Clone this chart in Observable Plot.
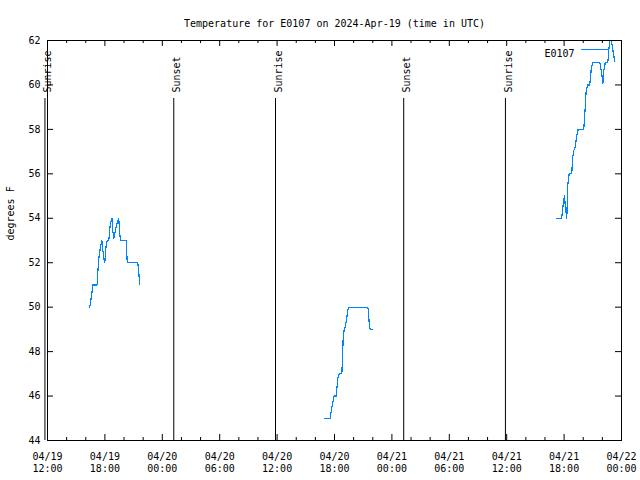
<!DOCTYPE html>
<html><head><meta charset="utf-8">
<script src="https://cdn.jsdelivr.net/npm/d3@7"></script>
<script src="https://cdn.jsdelivr.net/npm/@observablehq/plot@0.6"></script>
<style>body{margin:0;background:#fff}</style>
</head><body><div id="chart"></div><script>
const titleText = "Temperature for E0107 on 2024-Apr-19 (time in UTC)";
const yLabel = "degrees F";
const seriesName = "E0107";
const lineColor = "#0084ff";

const xDomain = ["2024-04-19T12:00Z", "2024-04-22T00:00Z"];
const yDomain = [44, 62];
const yTicks = [44, 46, 48, 50, 52, 54, 56, 58, 60, 62];
const xLabelTimes = ["2024-04-19T12:00Z","2024-04-19T18:00Z","2024-04-20T00:00Z","2024-04-20T06:00Z",
  "2024-04-20T12:00Z","2024-04-20T18:00Z","2024-04-21T00:00Z","2024-04-21T06:00Z",
  "2024-04-21T12:00Z","2024-04-21T18:00Z","2024-04-22T00:00Z"];

const sunTimes = ["2024-04-19T11:44Z","2024-04-20T01:12Z","2024-04-20T11:50Z","2024-04-21T01:14Z","2024-04-21T11:52Z"];
const sunLabels = ["Sunrise","Sunset","Sunrise","Sunset","Sunrise"];

const s1Times = ["16:25","16:36","16:44","17:12","17:15","17:22","17:32","17:41","17:45","17:53","17:59","18:08","18:14","18:24","18:35","18:46","18:50","18:56","19:02","19:13","19:21","19:27","19:33","19:38","20:14","20:20","21:26","21:33","21:39"];
const s1Temps = [50.0,50.5,51,51,51.5,52.2,52.7,53,52.7,52.2,52,52.8,53,53,53.8,54,53.4,53.1,53.3,53.7,53.9,54,53.3,53,53,52,52,51.5,51];

const s2Times = ["16:57","17:33","17:37","17:43","17:49","17:58","18:12","18:14","18:21","18:29","18:46","18:49","18:54","19:01","19:07","19:15","19:23","19:32","21:29","21:33","21:38","21:44","21:58"];
const s2Temps = [45,45,45.2,45.5,45.7,46,46,46.3,46.8,47,47,47.5,48.5,49,49.1,49.4,49.85,50,50,49.8,49.25,49,49];

const s3Times = ["17:12","17:45","17:54","18:02","18:11","18:17","18:23","18:32","18:48","18:54","19:01","19:09","19:18","19:28","20:03","20:10","20:18","20:27","20:41","20:50","20:58","21:44","21:53","21:59","22:03","22:09","22:18","22:34","22:40","22:47","22:57","23:03","23:12","23:18"];
const s3Temps = [54,54,54.6,55,54.3,54,55.5,56,56,56.75,57.05,57.2,57.65,58,58,58.7,59.7,60,60,60.7,61,61,60.65,60.35,60.05,60.65,61,61,61.55,62,62,61.7,61.3,61.05];

const seriesDays = ["2024-04-19","2024-04-20","2024-04-21"];
const seriesTimes = [s1Times, s2Times, s3Times];
const seriesTemps = [s1Temps, s2Temps, s3Temps];

const data = [];
seriesTimes.forEach((times, i) => times.forEach((t, j) =>
  data.push({seg: i, time: new Date(`${seriesDays[i]}T${t}Z`), temp: seriesTemps[i][j]})));

const sun = sunTimes.map((t, i) => ({time: new Date(t), label: sunLabels[i]}));
const x0 = new Date(xDomain[0]), x1 = new Date(xDomain[1]);
const allTicks = d3.utcHour.every(2).range(x0, new Date(+x1 + 1));
const majorSet = new Set(xLabelTimes.map(t => +new Date(t)));
const majorTicks = allTicks.filter(d => majorSet.has(+d));
const minorTicks = allTicks.filter(d => !majorSet.has(+d));
const fmt = d3.utcFormat("%m/%d\n%H:%M");

const W = 640, H = 480, ML = 47, MR = 19, MT = 40, MB = 40;
const fw = W - ML - MR, fh = H - MT - MB;

const chart = Plot.plot({
  width: W, height: H, marginLeft: ML, marginRight: MR, marginTop: MT, marginBottom: MB,
  style: {fontFamily: "DejaVu Sans Mono", fontSize: "10px", background: "white", color: "black"},
  x: {type: "utc", domain: [x0, x1]},
  y: {domain: yDomain},
  marks: [
    Plot.ruleX(minorTicks, {insetTop: fh - 3}),
    Plot.ruleX(minorTicks, {insetBottom: fh - 3}),
    Plot.ruleX(majorTicks, {insetTop: fh - 6}),
    Plot.ruleX(majorTicks, {insetBottom: fh - 6}),
    Plot.ruleY(yTicks, {insetRight: fw - 6}),
    Plot.ruleY(yTicks, {insetLeft: fw - 6}),
    Plot.axisX({ticks: xLabelTimes.map(t => new Date(t)), tickSize: 0, tickPadding: 11, tickFormat: fmt, lineHeight: 1.2, label: null}),
    Plot.axisY({ticks: yTicks, tickSize: 0, tickPadding: 7, label: null}),
    Plot.ruleX(sun, {x: "time", insetTop: 58}),
    Plot.text(sun, {x: "time", text: "label", rotate: -90, frameAnchor: "top", dy: 52, dx: -1, textAnchor: "start"}),
    Plot.line(data, {x: "time", y: "temp", z: "seg", stroke: lineColor, strokeWidth: 1.2, shapeRendering: "crispEdges"}),
    Plot.frame(),
    Plot.text([titleText], {frameAnchor: "top", dy: -21}),
    Plot.text([yLabel], {frameAnchor: "left", dx: -37, rotate: -90}),
    Plot.text([seriesName], {frameAnchor: "top-right", dx: -47, dy: 9, textAnchor: "end"}),
    Plot.ruleY([yDomain[1]], {dy: 9, insetLeft: fw - 40, insetRight: 12, stroke: lineColor})
  ]
});
document.getElementById("chart").appendChild(chart);
</script></body></html>
